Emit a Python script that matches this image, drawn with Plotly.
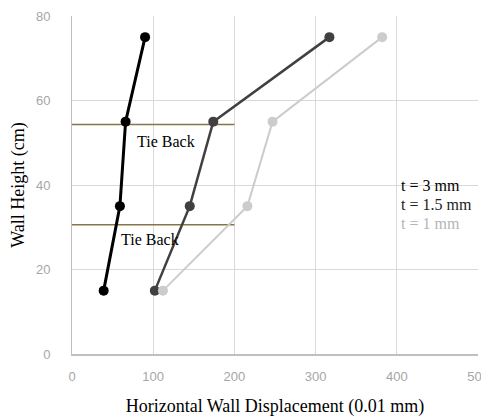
import plotly.graph_objects as go

heights = [15, 35, 55, 75]
disp_t3 = [39, 59, 66, 90]
disp_t15 = [102, 145, 174, 317]
disp_t1 = [112, 216, 247, 382]

series_names = ["t = 3 mm", "t = 1.5 mm", "t = 1 mm"]
series_colors = ["#000000", "#404040", "#cccccc"]
series_text_colors = ["#000000", "#222222", "#b5b5b5"]
series_widths = [3, 2.5, 2]

tieback_heights = [54.3, 30.6]
tieback_x = [0, 200]
tieback_labels = ["Tie Back", "Tie Back"]
tieback_label_pos = [(78, 50.2), (58, 27)]

legend_x = 403
legend_y = [40.0, 35.3, 31.0]

x_ticks = [0, 100, 200, 300, 400, 500]
y_ticks = [0, 20, 40, 60, 80]

fig = go.Figure()

for h in tieback_heights:
    fig.add_trace(go.Scatter(x=tieback_x, y=[h, h], mode="lines",
                             line=dict(color="#857649", width=1.5),
                             showlegend=False, hoverinfo="skip"))

for name, xs, c, w in zip(series_names, [disp_t3, disp_t15, disp_t1], series_colors, series_widths):
    fig.add_trace(go.Scatter(x=xs, y=heights, mode="lines+markers", name=name,
                             line=dict(color=c, width=w),
                             marker=dict(color=c, size=10),
                             showlegend=False))

for lab, (lx, ly) in zip(tieback_labels, tieback_label_pos):
    fig.add_annotation(x=lx, y=ly, text=lab, showarrow=False, xanchor="left",
                       font=dict(family="Liberation Serif", size=16, color="#000000"))

for name, c, ly in zip(series_names, series_text_colors, legend_y):
    fig.add_annotation(x=legend_x, y=ly, text=name, showarrow=False, xanchor="left",
                       font=dict(family="Liberation Serif", size=16, color=c))

fig.update_layout(
    width=481, height=409,
    margin=dict(l=64, r=11, t=8, b=63),
    paper_bgcolor="white", plot_bgcolor="white",
    showlegend=False,
    xaxis=dict(range=[0, 500], tickvals=x_ticks, showgrid=True, gridcolor="#d9d9d9",
               zeroline=False, showline=True, linecolor="#bfbfbf", linewidth=1.5,
               tickfont=dict(family="Liberation Sans", size=13, color="#a6a6a6"),
               ticks="", ticklabelstandoff=10, automargin=False,
               title=dict(text="Horizontal Wall Displacement (0.01 mm)",
                          font=dict(family="Liberation Serif", size=18, color="#000000"),
                          standoff=24)),
    yaxis=dict(range=[0, 80], tickvals=y_ticks, showgrid=True, gridcolor="#d9d9d9",
               zeroline=False, showline=True, linecolor="#bfbfbf", linewidth=1,
               tickfont=dict(family="Liberation Sans", size=13, color="#a6a6a6"),
               ticks="", ticklabelstandoff=18, automargin=False,
               title=dict(text="Wall Height (cm)",
                          font=dict(family="Liberation Serif", size=18, color="#000000"),
                          standoff=20)),
)

fig.write_html("out.html")
